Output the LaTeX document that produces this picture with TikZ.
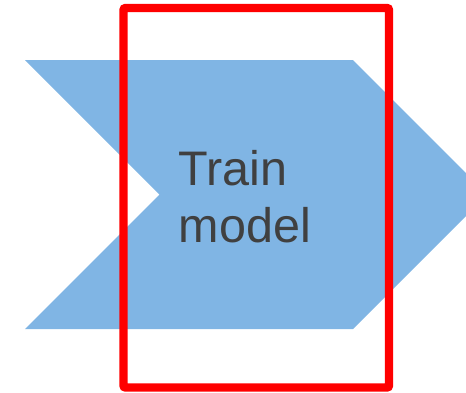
\documentclass[tikz,border=0pt]{standalone}
\usepackage{fontspec}
\setmainfont{Liberation Sans}
\definecolor{chevblue}{RGB}{128,181,228}
\definecolor{textgray}{RGB}{64,64,64}
\tikzset{
  steplabel/.style={anchor=base west, text=textgray, inner sep=0pt,
    font=\fontsize{48.5}{57}\selectfont},
  framebox/.style={draw=red, line width=8.3pt, rounded corners=2pt}
}
\begin{document}
\begin{tikzpicture}[x=1pt,y=-1pt]
\useasboundingbox (0,0) rectangle (466,392);
% chevron step shape, its tip running past the right edge
\begin{scope}
  \clip (0,0) rectangle (466,392);
  \fill[chevblue] (25,60) -- (353,60) -- (487.5,194.5) -- (353,329)
    -- (25,329) -- (159.5,194.5) -- cycle;
\end{scope}
% step caption
\node[steplabel] (train) at (178.5,185) {Train};
\node[steplabel] (model) at (178.5,242) {model};
% highlight frame
\draw[framebox] (123.5,8) rectangle (389,387.5);
\end{tikzpicture}
\end{document}
